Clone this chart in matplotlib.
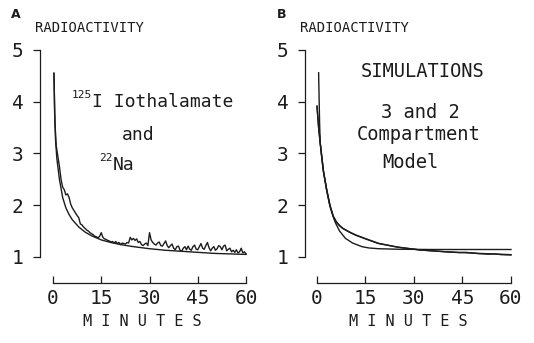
import matplotlib.pyplot as plt

# panel A: measured data (noisy) and fitted curve
a_noisy_t = [0.3, 0.6, 1, 1.5, 2, 2.5, 3, 3.5, 4, 4.5, 5, 5.5, 6, 6.5, 7, 7.5, 8, 8.5, 9, 9.5,
             10, 10.5, 11, 11.5, 12, 12.5, 13, 13.5, 14, 14.5, 15, 15.5, 16, 16.5, 17, 17.5,
             18, 18.5, 19, 19.5, 20, 20.5, 21, 21.5, 22, 22.5, 23, 23.5, 24, 24.5, 25, 25.5,
             26, 26.5, 27, 27.5, 28, 28.5, 29, 29.5, 30, 30.5, 31, 31.5, 32, 32.5, 33, 33.5,
             34, 34.5, 35, 35.5, 36, 36.5, 37, 37.5, 38, 38.5, 39, 39.5, 40, 40.5, 41, 41.5,
             42, 42.5, 43, 43.5, 44, 44.5, 45, 45.5, 46, 46.5, 47, 47.5, 48, 48.5, 49, 49.5,
             50, 50.5, 51, 51.5, 52, 52.5, 53, 53.5, 54, 54.5, 55, 55.5, 56, 56.5, 57, 57.5,
             58, 58.5, 59, 59.5, 60]
a_noisy_v = [4.55, 3.6, 3.15, 2.95, 2.75, 2.5, 2.35, 2.3, 2.2, 2.22, 2.15, 2.02, 1.95, 1.9,
             1.85, 1.8, 1.76, 1.64, 1.62, 1.58, 1.55, 1.52, 1.5, 1.47, 1.45, 1.43, 1.4, 1.39,
             1.37, 1.4, 1.47, 1.38, 1.35, 1.34, 1.32, 1.31, 1.29, 1.3, 1.27, 1.3, 1.26, 1.28,
             1.24, 1.27, 1.26, 1.25, 1.28, 1.27, 1.38, 1.33, 1.36, 1.32, 1.35, 1.28, 1.3,
             1.24, 1.22, 1.25, 1.27, 1.22, 1.47, 1.33, 1.28, 1.25, 1.23, 1.27, 1.29, 1.22,
             1.21, 1.26, 1.31, 1.22, 1.18, 1.22, 1.25, 1.17, 1.14, 1.2, 1.21, 1.13, 1.11,
             1.17, 1.2, 1.14, 1.21, 1.15, 1.13, 1.2, 1.23, 1.15, 1.14, 1.2, 1.26, 1.17,
             1.15, 1.22, 1.28, 1.18, 1.12, 1.17, 1.2, 1.13, 1.16, 1.22, 1.2, 1.14, 1.21,
             1.23, 1.12, 1.15, 1.17, 1.1, 1.13, 1.09, 1.14, 1.08, 1.1, 1.17, 1.08,
             1.1, 1.06]
a_fit_t = [0.3, 0.5, 0.8, 1.2, 2, 3, 4, 5, 6, 8, 10, 12, 15, 18, 21, 25, 30, 35, 40, 45, 50, 55, 60]
a_fit_v = [4.55, 3.8, 3.25, 2.9, 2.5, 2.15, 1.95, 1.82, 1.72, 1.58, 1.48, 1.41, 1.33, 1.28,
           1.24, 1.2, 1.16, 1.13, 1.11, 1.09, 1.07, 1.06, 1.05]

# panel B: data, 3 compartment and 2 compartment simulations
b_data_t = [0.5, 0.8, 1, 1.5, 2, 3, 4, 5, 6, 7, 8, 10, 12, 15, 19, 25, 32, 40, 44, 46, 50,
            53, 55, 57, 60]
b_data_v = [4.56, 3.6, 3.2, 2.9, 2.65, 2.3, 2.0, 1.79, 1.67, 1.6, 1.55, 1.48, 1.42, 1.35,
            1.26, 1.19, 1.135, 1.1, 1.085, 1.09, 1.065, 1.055, 1.06, 1.045, 1.04]
b_three_t = [0, 0.5, 1, 2, 3, 4, 5, 6, 7, 8, 10, 12, 15, 19, 25, 32, 40, 50, 60]
b_three_v = [3.9, 3.5, 3.2, 2.66, 2.3, 2.0, 1.79, 1.68, 1.61, 1.555, 1.485, 1.425, 1.355,
             1.265, 1.19, 1.135, 1.1, 1.07, 1.045]
b_two_t = [0, 0.5, 1, 2, 3, 4, 5, 5.7, 7, 8.8, 11, 13.9, 16, 19, 25, 35, 60]
b_two_v = [3.92, 3.5, 3.2, 2.65, 2.28, 1.98, 1.78, 1.66, 1.5, 1.36, 1.27, 1.2, 1.175, 1.16,
           1.15, 1.145, 1.145]

xticks = [0, 15, 30, 45, 60]
yticks = [1, 2, 3, 4, 5]

W, H = 534, 343
mono = 'DejaVu Sans Mono'
ink = '#1c1c1c'

fig = plt.figure(figsize=(W / 100, H / 100), dpi=100)


def make_axes(px_left, px_zero, px_per_min):
    x_lo = (px_left - px_zero) / px_per_min
    px_right = px_zero + 60.5 * px_per_min
    top, bottom = 44.8, 283
    ax = fig.add_axes([px_left / W, 1 - bottom / H, (px_right - px_left) / W, (bottom - top) / H])
    ax.set_xlim(x_lo, 60.5)
    ax.set_ylim(0.4976, 5.1)
    for s in ['top', 'right']:
        ax.spines[s].set_visible(False)
    ax.spines['left'].set_bounds(1, 5)
    ax.spines['bottom'].set_bounds(0, 60)
    for s in ['left', 'bottom']:
        ax.spines[s].set_linewidth(0.9)
        ax.spines[s].set_color(ink)
    ax.set_xticks(xticks)
    ax.set_yticks(yticks)
    ax.tick_params(axis='x', direction='in', length=5, width=0.9, pad=4,
                   labelsize=14, colors=ink)
    ax.tick_params(axis='y', direction='out', length=5, width=0.9, pad=7,
                   labelsize=14, colors=ink)
    for lab in ax.get_xticklabels() + ax.get_yticklabels():
        lab.set_family(mono)
    return ax


ax_a = make_axes(40, 53, 3.217)
ax_a.plot(a_noisy_t, a_noisy_v, color=ink, lw=1.0)
ax_a.plot(a_fit_t, a_fit_v, color=ink, lw=1.0)
ax_a.text(12.0, 4.13, '125', family=mono, fontsize=8, ha='right', va='center', color=ink)
ax_a.text(12.1, 4.0, 'I Iothalamate', family=mono, fontsize=13, ha='left', va='center', color=ink)
ax_a.text(26.4, 3.36, 'and', family=mono, fontsize=13, ha='center', va='center', color=ink)
ax_a.text(18.6, 2.91, '22', family=mono, fontsize=8, ha='right', va='center', color=ink)
ax_a.text(18.6, 2.78, 'Na', family=mono, fontsize=13, ha='left', va='center', color=ink)

ax_b = make_axes(305, 317, 3.233)
ax_b.plot(b_data_t, b_data_v, color=ink, lw=1.0)
ax_b.plot(b_three_t, b_three_v, color=ink, lw=1.0)
ax_b.plot(b_two_t, b_two_v, color=ink, lw=1.0)
for txt, x, y in [('SIMULATIONS', 32.8, 4.575), ('3 and 2', 31.9, 3.80),
                  ('Compartment', 31.5, 3.36), ('Model', 28.8, 2.82)]:
    ax_b.text(x, y, txt, family=mono, fontsize=13.5, ha='center', va='center', color=ink)

# panel letters, axis titles
for letter, lx, rx, mx in [('A', 16, 35, 142), ('B', 282, 300, 408)]:
    fig.text(lx / W, 1 - 14 / H, letter, family='DejaVu Sans', fontsize=9,
             fontweight='bold', ha='center', va='center', color=ink)
    fig.text(rx / W, 1 - 28 / H, 'RADIOACTIVITY', family=mono, fontsize=10,
             ha='left', va='center', color=ink)
    fig.text(mx / W, 1 - 322 / H, 'M I N U T E S', family=mono, fontsize=11,
             ha='center', va='center', color=ink)

fig.savefig('out.png', dpi=100)
